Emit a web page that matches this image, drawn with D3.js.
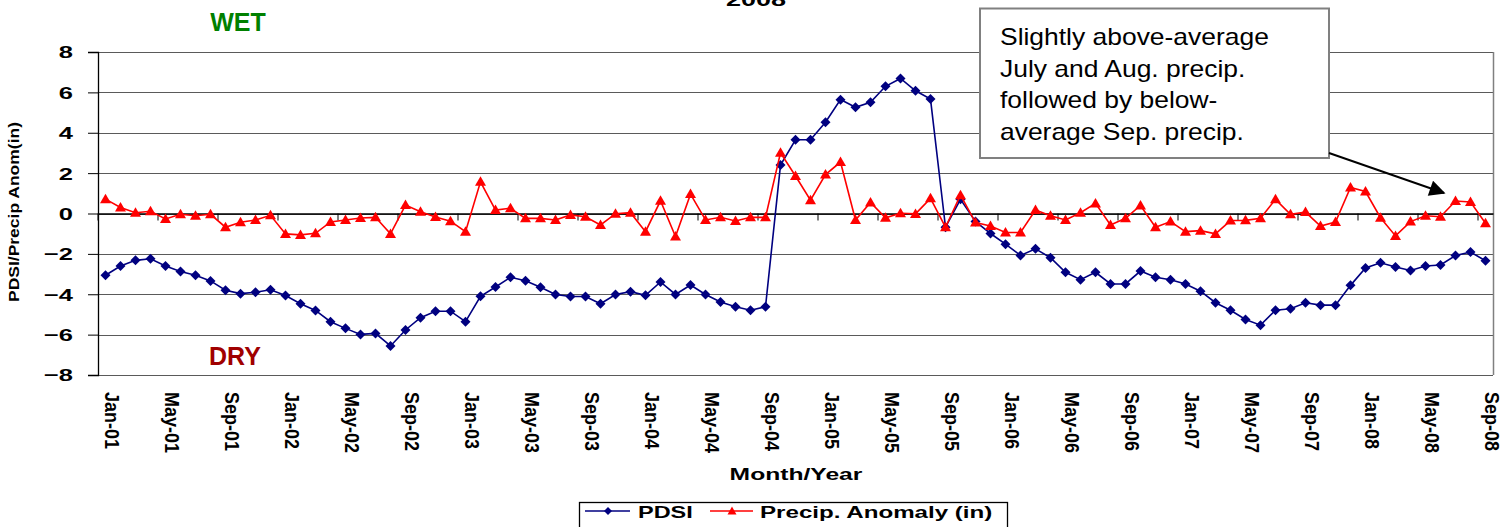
<!DOCTYPE html>
<html>
<head>
<meta charset="utf-8">
<script src="https://cdn.jsdelivr.net/npm/d3@7"></script>
<style>
    body { margin: 0; background: #fff; }
    svg text { font-family: "Liberation Sans", Arial, sans-serif; }
</style>
</head>
<body>
<div id="wrapper"></div>
<script>
const months = [
    "Jan-01","Feb-01","Mar-01","Apr-01","May-01","Jun-01","Jul-01","Aug-01","Sep-01","Oct-01","Nov-01","Dec-01",
    "Jan-02","Feb-02","Mar-02","Apr-02","May-02","Jun-02","Jul-02","Aug-02","Sep-02","Oct-02","Nov-02","Dec-02",
    "Jan-03","Feb-03","Mar-03","Apr-03","May-03","Jun-03","Jul-03","Aug-03","Sep-03","Oct-03","Nov-03","Dec-03",
    "Jan-04","Feb-04","Mar-04","Apr-04","May-04","Jun-04","Jul-04","Aug-04","Sep-04","Oct-04","Nov-04","Dec-04",
    "Jan-05","Feb-05","Mar-05","Apr-05","May-05","Jun-05","Jul-05","Aug-05","Sep-05","Oct-05","Nov-05","Dec-05",
    "Jan-06","Feb-06","Mar-06","Apr-06","May-06","Jun-06","Jul-06","Aug-06","Sep-06","Oct-06","Nov-06","Dec-06",
    "Jan-07","Feb-07","Mar-07","Apr-07","May-07","Jun-07","Jul-07","Aug-07","Sep-07","Oct-07","Nov-07","Dec-07",
    "Jan-08","Feb-08","Mar-08","Apr-08","May-08","Jun-08","Jul-08","Aug-08","Sep-08"
]

const tickLabels = ["Jan-01","May-01","Sep-01","Jan-02","May-02","Sep-02","Jan-03","May-03","Sep-03",
    "Jan-04","May-04","Sep-04","Jan-05","May-05","Sep-05","Jan-06","May-06","Sep-06",
    "Jan-07","May-07","Sep-07","Jan-08","May-08","Sep-08"]

const pdsi = [
    -3.06,-2.60,-2.32,-2.24,-2.60,-2.87,-3.06,-3.34,-3.80,-3.97,-3.90,-3.78,
    -4.06,-4.47,-4.80,-5.36,-5.69,-5.99,-5.94,-6.56,-5.77,-5.16,-4.84,-4.84,
    -5.36,-4.10,-3.64,-3.16,-3.33,-3.65,-4.01,-4.11,-4.11,-4.47,-4.01,-3.87,
    -4.05,-3.39,-4.01,-3.54,-4.01,-4.38,-4.62,-4.79,-4.62,2.40,3.65,3.65,
    4.52,5.64,5.26,5.51,6.30,6.69,6.08,5.67,-0.68,0.70,-0.40,-0.99,
    -1.52,-2.08,-1.75,-2.19,-2.91,-3.28,-2.91,-3.49,-3.49,-2.85,-3.16,-3.28,
    -3.49,-3.85,-4.42,-4.79,-5.25,-5.53,-4.79,-4.72,-4.42,-4.54,-4.54,-3.56,
    -2.70,-2.44,-2.65,-2.82,-2.60,-2.55,-2.08,-1.91,-2.34
]

const precip = [
    0.71,0.30,0.04,0.11,-0.27,-0.04,-0.11,-0.04,-0.68,-0.43,-0.32,-0.09,
    -1.01,-1.06,-0.98,-0.42,-0.32,-0.22,-0.19,-1.01,0.42,0.09,-0.17,-0.38,
    -0.90,1.57,0.17,0.26,-0.24,-0.24,-0.32,-0.07,-0.16,-0.57,-0.01,0.04,
    -0.90,0.63,-1.14,0.96,-0.32,-0.19,-0.37,-0.19,-0.19,3.01,1.86,0.66,
    1.93,2.55,-0.32,0.55,-0.21,0.01,-0.02,0.75,-0.68,0.91,-0.45,-0.62,
    -0.94,-0.94,0.17,-0.11,-0.32,0.04,0.50,-0.57,-0.24,0.40,-0.68,-0.40,
    -0.90,-0.85,-1.01,-0.35,-0.34,-0.24,0.70,-0.04,0.07,-0.62,-0.42,1.29,
    1.09,-0.21,-1.11,-0.40,-0.11,-0.16,0.62,0.57,-0.48
]

const yTicks = [-8, -6, -4, -2, 0, 2, 4, 6, 8]
const noteLines = ["Slightly above-average", "July and Aug. precip.", "followed by below-", "average Sep. precip."]

function drawChart() {

    let dimensions = {
        width: 1509,
        height: 527,
        margin: {
            top: 52,
            right: 16,
            bottom: 152,
            left: 98,
        },
    }
    dimensions.boundedWidth = dimensions.width
        - dimensions.margin.left
        - dimensions.margin.right
    dimensions.boundedHeight = dimensions.height
        - dimensions.margin.top
        - dimensions.margin.bottom

    const wrapper = d3.select("#wrapper")
        .append("svg")
        .attr("width", dimensions.width)
        .attr("height", dimensions.height)

    const bounds = wrapper.append("g")
        .attr("transform", `translate(${dimensions.margin.left},${dimensions.margin.top})`)

    const xScaler = d3.scaleBand()
        .domain(months)
        .range([0, dimensions.boundedWidth])
    const bw = xScaler.bandwidth()
    const xCenter = (d, i) => xScaler(months[i]) + bw / 2

    const yScaler = d3.scaleLinear()
        .domain([-8, 8])
        .range([dimensions.boundedHeight, 0])

    // grid lines
    bounds.append("g")
        .selectAll("line")
        .data(yTicks)
        .enter()
        .append("line")
        .attr("x1", 0)
        .attr("x2", dimensions.boundedWidth)
        .attr("y1", d => Math.round(yScaler(d)) + 0.5)
        .attr("y2", d => Math.round(yScaler(d)) + 0.5)
        .attr("stroke", "#5a5a5a")
        .attr("stroke-width", 1.2)

    // right frame
    bounds.append("line")
        .attr("x1", dimensions.boundedWidth + 0.5)
        .attr("x2", dimensions.boundedWidth + 0.5)
        .attr("y1", 0)
        .attr("y2", dimensions.boundedHeight)
        .attr("stroke", "#808080")
        .attr("stroke-width", 1.5)

    // y axis
    const yAxisGen = d3.axisLeft()
        .scale(yScaler)
        .tickValues(yTicks)
        .tickSize(10)
        .tickPadding(0)
    const yAxis = bounds.append("g")
        .call(yAxisGen)
    yAxis.select(".domain").attr("stroke", "#000").attr("stroke-width", 1.3)
    yAxis.selectAll(".tick line").attr("stroke", "#000")
    yAxis.selectAll(".tick text")
        .attr("x", -25 / 1.5)
        .attr("dy", "0.35em")
        .attr("transform", "scale(1.5,1)")
        .attr("font-size", "17px")
        .attr("font-weight", "bold")
        .attr("fill", "#000")
        .attr("font-family", "Liberation Sans, Arial, sans-serif")

    // x axis at zero
    const xAxisGen = d3.axisBottom()
        .scale(xScaler)
        .tickValues(tickLabels)
        .tickSize(7)
        .tickSizeOuter(0)
    const xAxis = bounds.append("g")
        .attr("transform", `translate(0,${yScaler(0)})`)
        .call(xAxisGen)
    xAxis.select(".domain").attr("stroke", "#000").attr("stroke-width", 1.3)
    xAxis.selectAll(".tick line")
        .attr("x1", -bw / 2)
        .attr("x2", -bw / 2)
        .attr("stroke", "#000")
    const labelTop = 392 - dimensions.margin.top - yScaler(0)
    xAxis.selectAll(".tick text")
        .attr("x", 0)
        .attr("y", 0)
        .attr("dy", null)
        .attr("text-anchor", "start")
        .attr("transform", `translate(-1,${labelTop}) scale(1.12,1) rotate(90)`)
        .attr("font-size", "18px")
        .attr("font-weight", "bold")
        .attr("fill", "#000")
        .attr("font-family", "Liberation Sans, Arial, sans-serif")

    // series
    const diamond = "M0,-5L5,0L0,5L-5,0Z"
    const triangle = "M0,-5.5L5.5,4L-5.5,4Z"

    const pdsiLine = d3.line()
        .x(xCenter)
        .y(d => yScaler(d))
    bounds.append("path")
        .attr("d", pdsiLine(pdsi))
        .attr("fill", "none")
        .attr("stroke", "#000080")
        .attr("stroke-width", 1.6)
    bounds.append("g")
        .selectAll("path")
        .data(pdsi)
        .enter()
        .append("path")
        .attr("d", diamond)
        .attr("transform", (d, i) => `translate(${xCenter(d, i)},${yScaler(d)})`)
        .attr("fill", "#000080")

    const precipLine = d3.line()
        .x(xCenter)
        .y(d => yScaler(d))
    bounds.append("path")
        .attr("d", precipLine(precip))
        .attr("fill", "none")
        .attr("stroke", "#ff0000")
        .attr("stroke-width", 1.6)
    bounds.append("g")
        .selectAll("path")
        .data(precip)
        .enter()
        .append("path")
        .attr("d", triangle)
        .attr("transform", (d, i) => `translate(${xCenter(d, i)},${yScaler(d)})`)
        .attr("fill", "#ff0000")

    // texts outside the plot
    const scaledText = (x, y, sx, size, txt, anchor) => {
        return wrapper.append("text")
            .attr("transform", `translate(${x},${y}) scale(${sx},1)`)
            .attr("text-anchor", anchor)
            .attr("font-size", size + "px")
            .attr("font-weight", "bold")
            .attr("fill", "#000")
            .text(txt)
    }

    scaledText(756, 5.5, 1.5, 18, "2008", "middle")
    scaledText(796, 480, 1.45, 17, "Month/Year", "middle")

    wrapper.append("text")
        .attr("transform", "translate(19,212) rotate(-90)")
        .attr("text-anchor", "middle")
        .attr("font-size", "15px")
        .attr("font-weight", "bold")
        .attr("textLength", 180)
        .attr("lengthAdjust", "spacingAndGlyphs")
        .attr("fill", "#000")
        .text("PDSI/Precip Anom(in)")

    wrapper.append("text")
        .attr("x", 238)
        .attr("y", 31)
        .attr("text-anchor", "middle")
        .attr("font-size", "25px")
        .attr("font-weight", "bold")
        .attr("fill", "#008000")
        .text("WET")

    wrapper.append("text")
        .attr("x", 235)
        .attr("y", 365)
        .attr("text-anchor", "middle")
        .attr("font-size", "25px")
        .attr("font-weight", "bold")
        .attr("fill", "#a00000")
        .text("DRY")

    // annotation
    wrapper.append("rect")
        .attr("x", 980)
        .attr("y", 8.5)
        .attr("width", 349)
        .attr("height", 149.5)
        .attr("fill", "#fff")
        .attr("stroke", "#808080")
        .attr("stroke-width", 2)

    const note = wrapper.append("g")
        .attr("transform", "translate(1000,0) scale(1.15,1)")
    note.selectAll("text")
        .data(noteLines)
        .enter()
        .append("text")
        .attr("x", 0)
        .attr("y", (d, i) => 45 + i * 31.7)
        .attr("font-size", "23px")
        .attr("fill", "#000")
        .text(d => d)

    wrapper.append("defs")
        .append("marker")
        .attr("id", "arrow")
        .attr("viewBox", "0 0 10 10")
        .attr("refX", 9)
        .attr("refY", 5)
        .attr("markerWidth", 9)
        .attr("markerHeight", 8)
        .attr("markerUnits", "strokeWidth")
        .attr("orient", "auto")
        .append("path")
        .attr("d", "M0,0L10,5L0,10Z")
        .attr("fill", "#000")

    wrapper.append("line")
        .attr("x1", 1329)
        .attr("y1", 153)
        .attr("x2", 1444)
        .attr("y2", 193)
        .attr("stroke", "#000")
        .attr("stroke-width", 2)
        .attr("marker-end", "url(#arrow)")

    // legend
    wrapper.append("rect")
        .attr("x", 579.5)
        .attr("y", 502.5)
        .attr("width", 428)
        .attr("height", 40)
        .attr("fill", "#fff")
        .attr("stroke", "#000")
        .attr("stroke-width", 1.3)

    const legend = wrapper.append("g")
        .attr("transform", "translate(0,511)")
    legend.append("line")
        .attr("x1", 585).attr("x2", 630)
        .attr("stroke", "#000080").attr("stroke-width", 1.6)
    legend.append("path")
        .attr("d", "M0,-4L4,0L0,4L-4,0Z")
        .attr("transform", "translate(608,0)")
        .attr("fill", "#000080")
    legend.append("line")
        .attr("x1", 710).attr("x2", 753)
        .attr("stroke", "#ff0000").attr("stroke-width", 1.6)
    legend.append("path")
        .attr("d", "M0,-4.5L4.5,3.5L-4.5,3.5Z")
        .attr("transform", "translate(732,0)")
        .attr("fill", "#ff0000")

    scaledText(638, 518, 1.38, 17, "PDSI", "start")
    scaledText(760, 518, 1.42, 17, "Precip. Anomaly (in)", "start")
}

drawChart()
</script>
</body>
</html>
